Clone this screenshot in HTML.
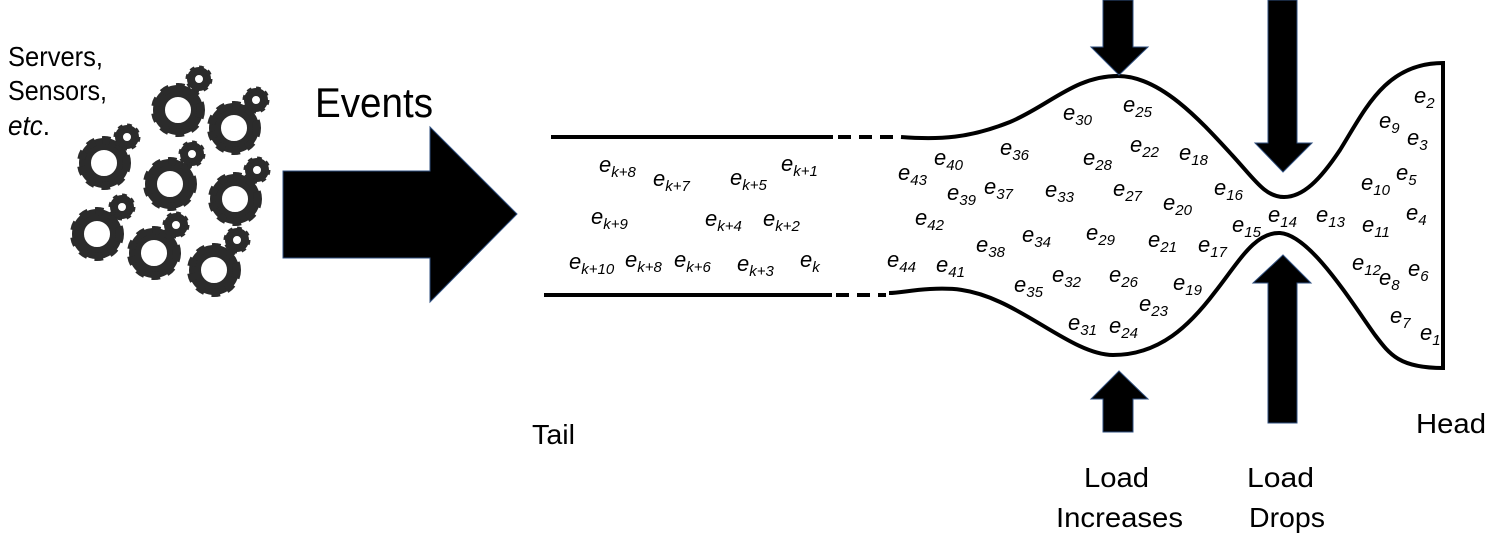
<!DOCTYPE html>
<html><head><meta charset="utf-8"><style>
html,body{margin:0;padding:0;background:#fff;}
svg{display:block;}
text{font-family:"Liberation Sans",sans-serif;}
.e{font-style:italic;font-size:22px;}
.e tspan{font-size:15px;}
</style></head><body>
<svg width="1496" height="535" viewBox="0 0 1496 535" xmlns="http://www.w3.org/2000/svg">
<defs>
<g id="gL"><circle r="19" fill="none" stroke="#2b2b2b" stroke-width="12"/><circle r="23" fill="none" stroke="#2b2b2b" stroke-width="8" stroke-dasharray="8 7.2"/></g>
<g id="gS"><circle r="8" fill="none" stroke="#2b2b2b" stroke-width="8"/><circle r="11" fill="none" stroke="#2b2b2b" stroke-width="5" stroke-dasharray="4.3 4.3"/></g>
</defs>
<text x="8" y="66" font-size="28" textLength="95" lengthAdjust="spacingAndGlyphs">Servers,</text>
<text x="8" y="100" font-size="28" textLength="99" lengthAdjust="spacingAndGlyphs">Sensors,</text>
<text x="8" y="135" font-size="28" textLength="42" lengthAdjust="spacingAndGlyphs"><tspan font-style="italic">etc</tspan>.</text>
<use href="#gL" x="178" y="110"/><use href="#gL" x="234" y="128"/><use href="#gL" x="104" y="163"/><use href="#gL" x="170" y="184"/><use href="#gL" x="235" y="199"/><use href="#gL" x="97" y="234"/><use href="#gL" x="154" y="253"/><use href="#gL" x="214" y="270"/>
<use href="#gS" x="199" y="79"/><use href="#gS" x="256" y="100"/><use href="#gS" x="127" y="137"/><use href="#gS" x="192" y="154"/><use href="#gS" x="257" y="170"/><use href="#gS" x="122" y="207"/><use href="#gS" x="176" y="225"/><use href="#gS" x="237" y="240"/>
<text x="315" y="117" font-size="42" textLength="118" lengthAdjust="spacingAndGlyphs">Events</text>
<polygon points="283,171 430,171 430,127 517,214 430,302 430,258 283,258" fill="#000" stroke="#2f4f7f" stroke-width="1"/>
<g stroke="#000" stroke-width="4" fill="none">
<line x1="551" y1="137" x2="833" y2="137"/>
<line x1="544" y1="295" x2="832" y2="295"/>
<line x1="838" y1="137" x2="900" y2="137" stroke-dasharray="13 8"/>
<line x1="836" y1="295" x2="886" y2="295" stroke-dasharray="13 8"/>
<path d="M901,137 C940,140 970,138 1010,122 C1050,105 1075,76 1118,76 C1160,76 1200,120 1232,155 C1255,180 1265,197 1284,197 C1303,197 1320,180 1340,150 C1365,110 1385,63 1443,63 L1443,368 C1400,368 1390,355 1375,335 C1350,300 1310,235 1280,233 C1255,232 1240,260 1215,292 C1190,325 1160,355 1113,355 C1080,355 1040,320 1000,302 C970,288 950,288 930,289 C910,290 900,293 889,293"/>
</g>
<polygon points="1103,0 1133,0 1133,47 1148,47 1119,75 1091,47 1103,47" fill="#000" stroke="#2f4f7f" stroke-width="1"/>
<polygon points="1103,432 1133,432 1133,399 1148,399 1119,371 1091,399 1103,399" fill="#000" stroke="#2f4f7f" stroke-width="1"/>
<polygon points="1268,0 1297,0 1297,143 1312,143 1283,172 1255,143 1268,143" fill="#000" stroke="#2f4f7f" stroke-width="1"/>
<polygon points="1268,423 1297,423 1297,283 1311,283 1283,255 1253,283 1268,283" fill="#000" stroke="#2f4f7f" stroke-width="1"/>
<g class="e">
<text x="599" y="172">e<tspan dy="5">k+8</tspan></text>
<text x="653" y="186">e<tspan dy="5">k+7</tspan></text>
<text x="730" y="185">e<tspan dy="5">k+5</tspan></text>
<text x="781" y="171">e<tspan dy="5">k+1</tspan></text>
<text x="591" y="224">e<tspan dy="5">k+9</tspan></text>
<text x="705" y="226">e<tspan dy="5">k+4</tspan></text>
<text x="763" y="226">e<tspan dy="5">k+2</tspan></text>
<text x="569" y="269">e<tspan dy="5">k+10</tspan></text>
<text x="625" y="267">e<tspan dy="5">k+8</tspan></text>
<text x="674" y="267">e<tspan dy="5">k+6</tspan></text>
<text x="737" y="271">e<tspan dy="5">k+3</tspan></text>
<text x="800" y="267">e<tspan dy="5">k</tspan></text>
<text x="1063" y="120">e<tspan dy="5">30</tspan></text>
<text x="1123" y="112">e<tspan dy="5">25</tspan></text>
<text x="1000" y="155">e<tspan dy="5">36</tspan></text>
<text x="1130" y="152">e<tspan dy="5">22</tspan></text>
<text x="1179" y="160">e<tspan dy="5">18</tspan></text>
<text x="934" y="165">e<tspan dy="5">40</tspan></text>
<text x="1083" y="165">e<tspan dy="5">28</tspan></text>
<text x="898" y="180">e<tspan dy="5">43</tspan></text>
<text x="1214" y="195">e<tspan dy="5">16</tspan></text>
<text x="947" y="200">e<tspan dy="5">39</tspan></text>
<text x="984" y="194">e<tspan dy="5">37</tspan></text>
<text x="1045" y="197">e<tspan dy="5">33</tspan></text>
<text x="1113" y="196">e<tspan dy="5">27</tspan></text>
<text x="1163" y="210">e<tspan dy="5">20</tspan></text>
<text x="915" y="225">e<tspan dy="5">42</tspan></text>
<text x="1268" y="222">e<tspan dy="5">14</tspan></text>
<text x="1316" y="222">e<tspan dy="5">13</tspan></text>
<text x="1232" y="232">e<tspan dy="5">15</tspan></text>
<text x="1362" y="232">e<tspan dy="5">11</tspan></text>
<text x="1406" y="220">e<tspan dy="5">4</tspan></text>
<text x="1361" y="190">e<tspan dy="5">10</tspan></text>
<text x="1396" y="180">e<tspan dy="5">5</tspan></text>
<text x="1379" y="128">e<tspan dy="5">9</tspan></text>
<text x="1407" y="145">e<tspan dy="5">3</tspan></text>
<text x="1414" y="103">e<tspan dy="5">2</tspan></text>
<text x="1022" y="242">e<tspan dy="5">34</tspan></text>
<text x="1086" y="240">e<tspan dy="5">29</tspan></text>
<text x="1148" y="247">e<tspan dy="5">21</tspan></text>
<text x="1198" y="252">e<tspan dy="5">17</tspan></text>
<text x="976" y="252">e<tspan dy="5">38</tspan></text>
<text x="887" y="267">e<tspan dy="5">44</tspan></text>
<text x="936" y="272">e<tspan dy="5">41</tspan></text>
<text x="1052" y="282">e<tspan dy="5">32</tspan></text>
<text x="1109" y="282">e<tspan dy="5">26</tspan></text>
<text x="1173" y="290">e<tspan dy="5">19</tspan></text>
<text x="1352" y="270">e<tspan dy="5">12</tspan></text>
<text x="1408" y="276">e<tspan dy="5">6</tspan></text>
<text x="1379" y="285">e<tspan dy="5">8</tspan></text>
<text x="1014" y="292">e<tspan dy="5">35</tspan></text>
<text x="1139" y="311">e<tspan dy="5">23</tspan></text>
<text x="1390" y="323">e<tspan dy="5">7</tspan></text>
<text x="1420" y="340">e<tspan dy="5">1</tspan></text>
<text x="1068" y="330">e<tspan dy="5">31</tspan></text>
<text x="1109" y="333">e<tspan dy="5">24</tspan></text>
</g>
<text x="532" y="444" font-size="28" textLength="43" lengthAdjust="spacingAndGlyphs">Tail</text>
<text x="1416" y="433" font-size="28" textLength="70" lengthAdjust="spacingAndGlyphs">Head</text>
<text x="1084" y="487" font-size="28" textLength="65" lengthAdjust="spacingAndGlyphs">Load</text>
<text x="1056" y="527" font-size="28" textLength="127" lengthAdjust="spacingAndGlyphs">Increases</text>
<text x="1247" y="487" font-size="28" textLength="67" lengthAdjust="spacingAndGlyphs">Load</text>
<text x="1249" y="527" font-size="28" textLength="76" lengthAdjust="spacingAndGlyphs">Drops</text>
</svg>
</body></html>
